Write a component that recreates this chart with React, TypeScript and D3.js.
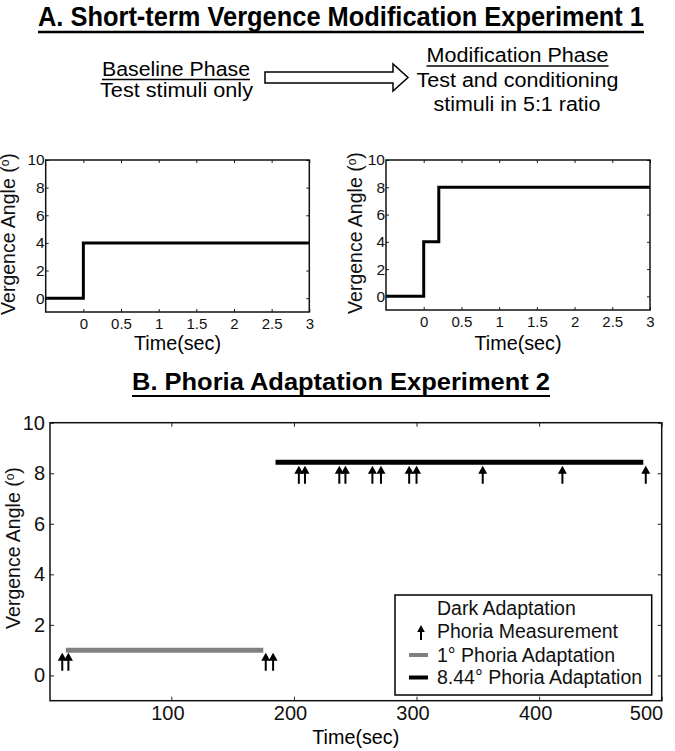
import React, { useEffect, useRef } from 'react';
import * as d3 from 'd3';

const W = 675;
const H = 751;
const FONT = '"Liberation Sans", Arial, Helvetica, sans-serif';

// A: stimulus traces (time in sec, vergence angle in deg)
const baselineTimes = [-0.5, 0, 3];
const baselineAngles = [0, 4, 4];
const modTimes = [-0.5, 0, 0.2, 3];
const modAngles = [0, 4, 8, 8];
const panelXTicks = [0, 0.5, 1, 1.5, 2, 2.5, 3];
const panelYTicks = [0, 2, 4, 6, 8, 10];

// B: adaptation periods and dark phoria measurements
const adaptLabels = ['1° Phoria Adaptation', '8.44° Phoria Adaptation'];
const adaptColors = ['#808080', '#000000'];
const adaptStarts = [14, 185];
const adaptEnds = [175, 485];
const adaptAngles = [1, 8.44];
const measureTimes = [11, 16, 177, 183, 204, 209, 237, 242, 264, 271, 294, 300, 354, 419, 487];
const measureAngles = [0.9, 0.9, 0.9, 0.9, 8.3, 8.3, 8.3, 8.3, 8.3, 8.3, 8.3, 8.3, 8.3, 8.3, 8.3];
const phoriaXTicks = [100, 200, 300, 400, 500];
const phoriaYTicks = [0, 2, 4, 6, 8, 10];

const App = () => {
	const ref = useRef(null);

	useEffect(() => {
		document.body.style.margin = '0';
		const svg = d3.select(ref.current);
		svg.selectAll('*').remove();
		svg.attr('font-family', FONT);

		// fitted text helper (source figure uses slightly stretched glyphs)
		const label = (g, str, cx, y, size, width, opts = {}) => {
			const t = g
				.append('text')
				.attr('x', cx)
				.attr('y', y)
				.attr('text-anchor', 'middle')
				.attr('font-size', size)
				.attr('font-weight', opts.bold ? 'bold' : 'normal')
				.attr('fill', '#000')
				.attr('textLength', width)
				.attr('lengthAdjust', 'spacingAndGlyphs')
				.text(str);
			if (opts.underline) {
				g.append('line')
					.attr('x1', cx - width / 2)
					.attr('x2', cx + width / 2)
					.attr('y1', opts.underline)
					.attr('y2', opts.underline)
					.attr('stroke', '#000')
					.attr('stroke-width', opts.uw || 1.3);
			}
			return t;
		};

		const yTitle = (g, x, cy, size) => {
			const t = g
				.append('text')
				.attr('transform', `translate(${x},${cy}) rotate(-90)`)
				.attr('text-anchor', 'middle')
				.attr('font-size', size)
				.attr('fill', '#111');
			t.append('tspan').text('Vergence Angle (');
			t.append('tspan').attr('font-size', size * 0.62).attr('dy', -size * 0.32).text('o');
			t.append('tspan').attr('dy', size * 0.32).text(')');
		};

		// boxed MATLAB-style axes with inward ticks on all sides
		const boxAxes = (g, x, y, xt, yt, o) => {
			const [x0, x1] = x.range();
			const [yb, yt0] = y.range();
			const fmt = d => String(d);
			const bottom = g
				.append('g')
				.attr('transform', `translate(0,${yb})`)
				.call(d3.axisBottom(x).tickValues(xt).tickSizeInner(-o.tick).tickSizeOuter(0).tickPadding(o.xpad).tickFormat(fmt));
			const top = g
				.append('g')
				.attr('transform', `translate(0,${yt0})`)
				.call(d3.axisTop(x).tickValues(xt).tickSizeInner(-o.tick).tickSizeOuter(0).tickFormat(() => ''));
			const left = g
				.append('g')
				.attr('transform', `translate(${x0},0)`)
				.call(d3.axisLeft(y).tickValues(yt).tickSizeInner(-o.tick).tickSizeOuter(0).tickPadding(o.ypad).tickFormat(fmt));
			const right = g
				.append('g')
				.attr('transform', `translate(${x1},0)`)
				.call(d3.axisRight(y).tickValues(yt).tickSizeInner(-o.tick).tickSizeOuter(0).tickFormat(() => ''));
			[bottom, top, left, right].forEach(a => {
				a.attr('font-size', null).attr('font-family', null);
				a.select('.domain').remove();
				a.selectAll('line').attr('stroke', '#222').attr('stroke-width', 1);
				a.selectAll('text').attr('font-family', FONT).attr('font-size', o.font).attr('fill', '#111');
			});
			left.selectAll('text').attr('font-size', o.yfont || o.font);
			if (o.xdx) {
				bottom.selectAll('text').attr('dx', o.xdx);
				// last label is pulled inside the figure edge
				bottom.selectAll('.tick:last-of-type text').attr('text-anchor', 'end').attr('dx', 1);
			}
			g.append('rect')
				.attr('x', x0)
				.attr('y', yt0)
				.attr('width', x1 - x0)
				.attr('height', yb - yt0)
				.attr('fill', 'none')
				.attr('stroke', '#111')
				.attr('stroke-width', 1.5);
		};

		// ---------- Part A header ----------
		const head = svg.append('g');
		label(head, 'A. Short-term Vergence Modification Experiment 1', 341, 26, 27, 606, { bold: true, underline: 32, uw: 2.5 });
		label(head, 'Baseline Phase', 176, 76, 20, 148, { underline: 79.5 });
		label(head, 'Test stimuli only', 176.5, 97, 20, 153);
		label(head, 'Modification Phase', 517.5, 62, 20, 182, { underline: 66 });
		label(head, 'Test and conditioning', 517.5, 87, 20, 202);
		label(head, 'stimuli in 5:1 ratio', 517, 111, 20, 167);

		head.append('path')
			.attr('d', 'M265,72 L393,72 L393,64 L408,77.5 L393,91 L393,83 L265,83 Z')
			.attr('fill', '#fff')
			.attr('stroke', '#000')
			.attr('stroke-width', 1.5)
			.attr('stroke-linejoin', 'miter');

		// ---------- Part A panels ----------
		const panels = [
			{ times: baselineTimes, angles: baselineAngles, xr: [45.7, 309.3], yr: [312, 160], ylx: 15 },
			{ times: modTimes, angles: modAngles, xr: [386, 650], yr: [310, 160], ylx: 362 },
		];
		panels.forEach(p => {
			const g = svg.append('g');
			const x = d3.scaleLinear().domain([-0.5, 3]).range(p.xr);
			const y = d3.scaleLinear().domain([-1, 10]).range(p.yr);
			const line = d3
				.line()
				.x(d => x(d[0]))
				.y(d => y(d[1]))
				.curve(d3.curveStepAfter);
			g.append('path')
				.attr('d', line(p.times.map((t, i) => [t, p.angles[i]])))
				.attr('fill', 'none')
				.attr('stroke', '#000')
				.attr('stroke-width', 3);
			boxAxes(g, x, y, panelXTicks, panelYTicks, { tick: 3, xpad: 6, ypad: 1, font: 15, yfont: 15.5 });
			label(g, 'Time(sec)', (p.xr[0] + p.xr[1]) / 2, 349.5, 20, 87);
			yTitle(g, p.ylx, (p.yr[0] + p.yr[1]) / 2 - 2, 19.5);
		});

		// ---------- Part B ----------
		label(svg, 'B. Phoria Adaptation Experiment 2', 341, 390, 23, 418, { bold: true, underline: 396, uw: 2.2 });

		const gb = svg.append('g');
		const xb = d3.scaleLinear().domain([1, 500]).range([50, 661.7]);
		const yb = d3.scaleLinear().domain([-1, 10]).range([700.7, 422.7]);

		adaptStarts.forEach((s, i) => {
			gb.append('line')
				.attr('x1', xb(s))
				.attr('x2', xb(adaptEnds[i]))
				.attr('y1', yb(adaptAngles[i]))
				.attr('y2', yb(adaptAngles[i]))
				.attr('stroke', adaptColors[i])
				.attr('stroke-width', 5);
		});

		const arrow = (g, cx, tip, len, hw, hh) =>
			g
				.append('path')
				.attr('d', `M${cx},${tip} L${cx + hw},${tip + hh} L${cx + 1},${tip + hh} L${cx + 1},${tip + len} L${cx - 1},${tip + len} L${cx - 1},${tip + hh} L${cx - hw},${tip + hh} Z`)
				.attr('fill', '#000');

		measureTimes.forEach((t, i) => arrow(gb, xb(t), yb(measureAngles[i]), 18, 4.5, 8));

		boxAxes(gb, xb, yb, phoriaXTicks, phoriaYTicks, { tick: 4, xpad: 5, ypad: 5, font: 20, xdx: -4 });
		label(gb, 'Time(sec)', 355.8, 743.5, 20, 87);
		yTitle(gb, 20, 548, 19.5);

		// legend
		const lg = gb.append('g');
		lg.append('rect')
			.attr('x', 395)
			.attr('y', 595)
			.attr('width', 256.7)
			.attr('height', 100)
			.attr('fill', '#fff')
			.attr('stroke', '#000')
			.attr('stroke-width', 1.5);
		const legendRows = ['Dark Adaptation', 'Phoria Measurement', ...adaptLabels];
		const legendBase = [615, 638, 661.5, 684];
		legendRows.forEach((r, i) => {
			lg.append('text')
				.attr('x', 437)
				.attr('y', legendBase[i])
				.attr('font-size', 19.5)
				.attr('fill', '#111')
				.text(r);
		});
		arrow(lg, 421, 625, 15, 3.8, 7);
		adaptColors.forEach((c, i) => {
			lg.append('line')
				.attr('x1', 409)
				.attr('x2', 428)
				.attr('y1', legendBase[i + 2] - 6.5)
				.attr('y2', legendBase[i + 2] - 6.5)
				.attr('stroke', c)
				.attr('stroke-width', 4);
		});
	}, []);

	return <svg ref={ref} width={W} height={H} style={{ display: 'block', background: '#fff' }} />;
};

export default App;
